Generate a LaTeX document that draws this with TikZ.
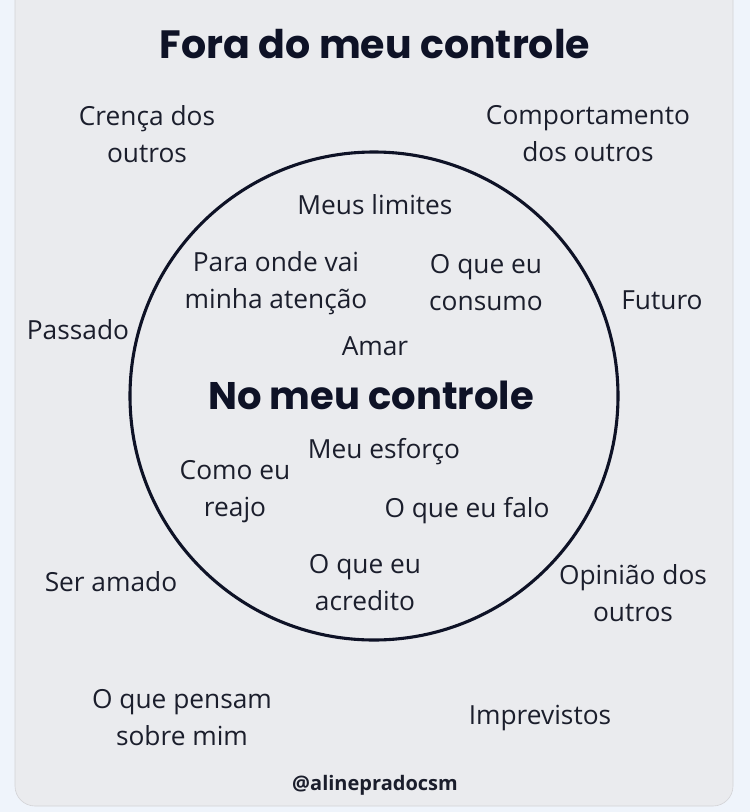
\documentclass[tikz,border=0pt]{standalone}
\usepackage{fontspec}
\setmainfont{Open Sans}
\newfontfamily\titlefont{Poppins}[UprightFont=* SemiBold,BoldFont=* Bold]
\definecolor{outerbg}{HTML}{EFF4FB}
\definecolor{cardbg}{HTML}{EAEBEE}
\definecolor{ink}{HTML}{1B1E2C}
\definecolor{darkink}{HTML}{0E1226}
\begin{document}
\begin{tikzpicture}[x=1pt,y=-1pt,
  lbl/.style={text=ink,align=center,inner sep=0pt,font=\fontsize{26.3}{37}\selectfont},
  head/.style={text=darkink,inner sep=0pt,font=\titlefont\bfseries\fontsize{#1}{42}\selectfont},
  ring/.style={draw=darkink,line width=3.1pt}]
\useasboundingbox (0,0) rectangle (750,812);
\fill[outerbg] (0,0) rectangle (750,812);
\fill[cardbg,rounded corners=20pt] (15,-30) rectangle (733,806);
\draw[cardbg!90!black,line width=0.6pt,rounded corners=20pt] (15,-30) rectangle (733,806);
\node[ring,circle,minimum size=488pt,inner sep=0pt] (ring) at (374,396) {};
\node[head=39.5] (title) at (375,44) {Fora do meu controle};
\node[head=38.5] (inner) at (371,395) {No meu controle};
\node[lbl] (crenca) at (147,134) {Crença dos\\outros};
\node[lbl] (comport) at (588,134) {Comportamento\\dos outros};
\node[lbl] (limites) at (375,205) {Meus limites};
\node[lbl] (atencao) at (276,283) {Para onde vai\\minha atenção};
\node[lbl] (consumo) at (486,283) {O que eu\\consumo};
\node[lbl] (futuro) at (662,300) {Futuro};
\node[lbl] (passado) at (78,330) {Passado};
\node[lbl] (amar) at (375,346) {Amar};
\node[lbl] (esforco) at (384,452) {Meu esforço};
\node[lbl] (reajo) at (235,492) {Como eu\\reajo};
\node[lbl] (falo) at (467,511) {O que eu falo};
\node[lbl] (amado) at (111,582) {Ser amado};
\node[lbl] (acredito) at (365,583) {O que eu\\acredito};
\node[lbl] (opiniao) at (633,593) {Opinião dos\\outros};
\node[lbl] (pensam) at (182,718) {O que pensam\\sobre mim};
\node[lbl] (imprev) at (540,718) {Imprevistos};
\node[text=ink,inner sep=0pt,font=\bfseries\fontsize{20}{22}\selectfont] (handle) at (375,785) {@alinepradocsm};
\end{tikzpicture}
\end{document}
